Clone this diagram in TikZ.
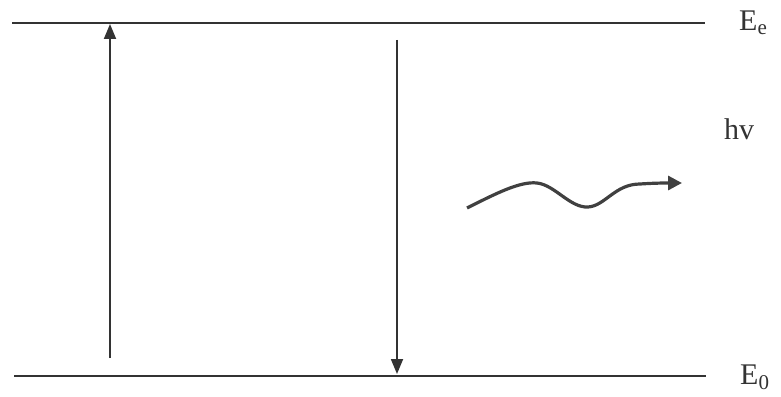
\documentclass[tikz,border=0pt]{standalone}
\usepackage{fontspec}
\setmainfont{Liberation Serif}
\usepackage{tikz}
\usetikzlibrary{arrows.meta, positioning}

\begin{document}
\begin{tikzpicture}[
    x=1pt, y=-1pt,
    level/.style={draw=black!80, line width=2.2pt},
    arrow/.style={-{Triangle[length=15pt, width=12pt]}, draw=black!80, line width=1.8pt},
    wave/.style={-{Triangle[length=14pt, width=14pt]}, draw=black!75, line width=3.2pt},
    lbl/.style={anchor=west, inner sep=0pt, font=\fontsize{30}{34}\selectfont, text=black!80}
]
\useasboundingbox (0,0) rectangle (781,396);

\coordinate (eeL) at (12,23);
\coordinate (eeR) at (705,23);
\coordinate (e0L) at (14,376);
\coordinate (e0R) at (706,376);

\draw[level] (eeL) -- (eeR);
\draw[level] (e0L) -- (e0R);

\node[lbl] (Ee) at (739,23) {E\textsubscript{e}};
\node[lbl] (E0) at (740,377) {E\textsubscript{0}};
\node[lbl] (hv) at (724,129) {hv};

\coordinate (absA) at (110,358);
\coordinate (absB) at (110,24);
\coordinate (emA) at (397,40);
\coordinate (emB) at (397,374);

\draw[arrow] (absA) -- (absB);
\draw[arrow] (emA) -- (emB);

\coordinate (w0) at (467,208);
\coordinate (w1) at (537,183);
\coordinate (w2) at (588,207);
\coordinate (w3) at (640,184);
\coordinate (w4) at (682,183);

\draw[wave] (w0) .. controls (495,194) and (520,181) .. (w1)
    .. controls (555,185) and (570,208) .. (w2)
    .. controls (605,206) and (615,184) .. (w3)
    .. controls (655,183) and (665,183) .. (w4);
\end{tikzpicture}
\end{document}
